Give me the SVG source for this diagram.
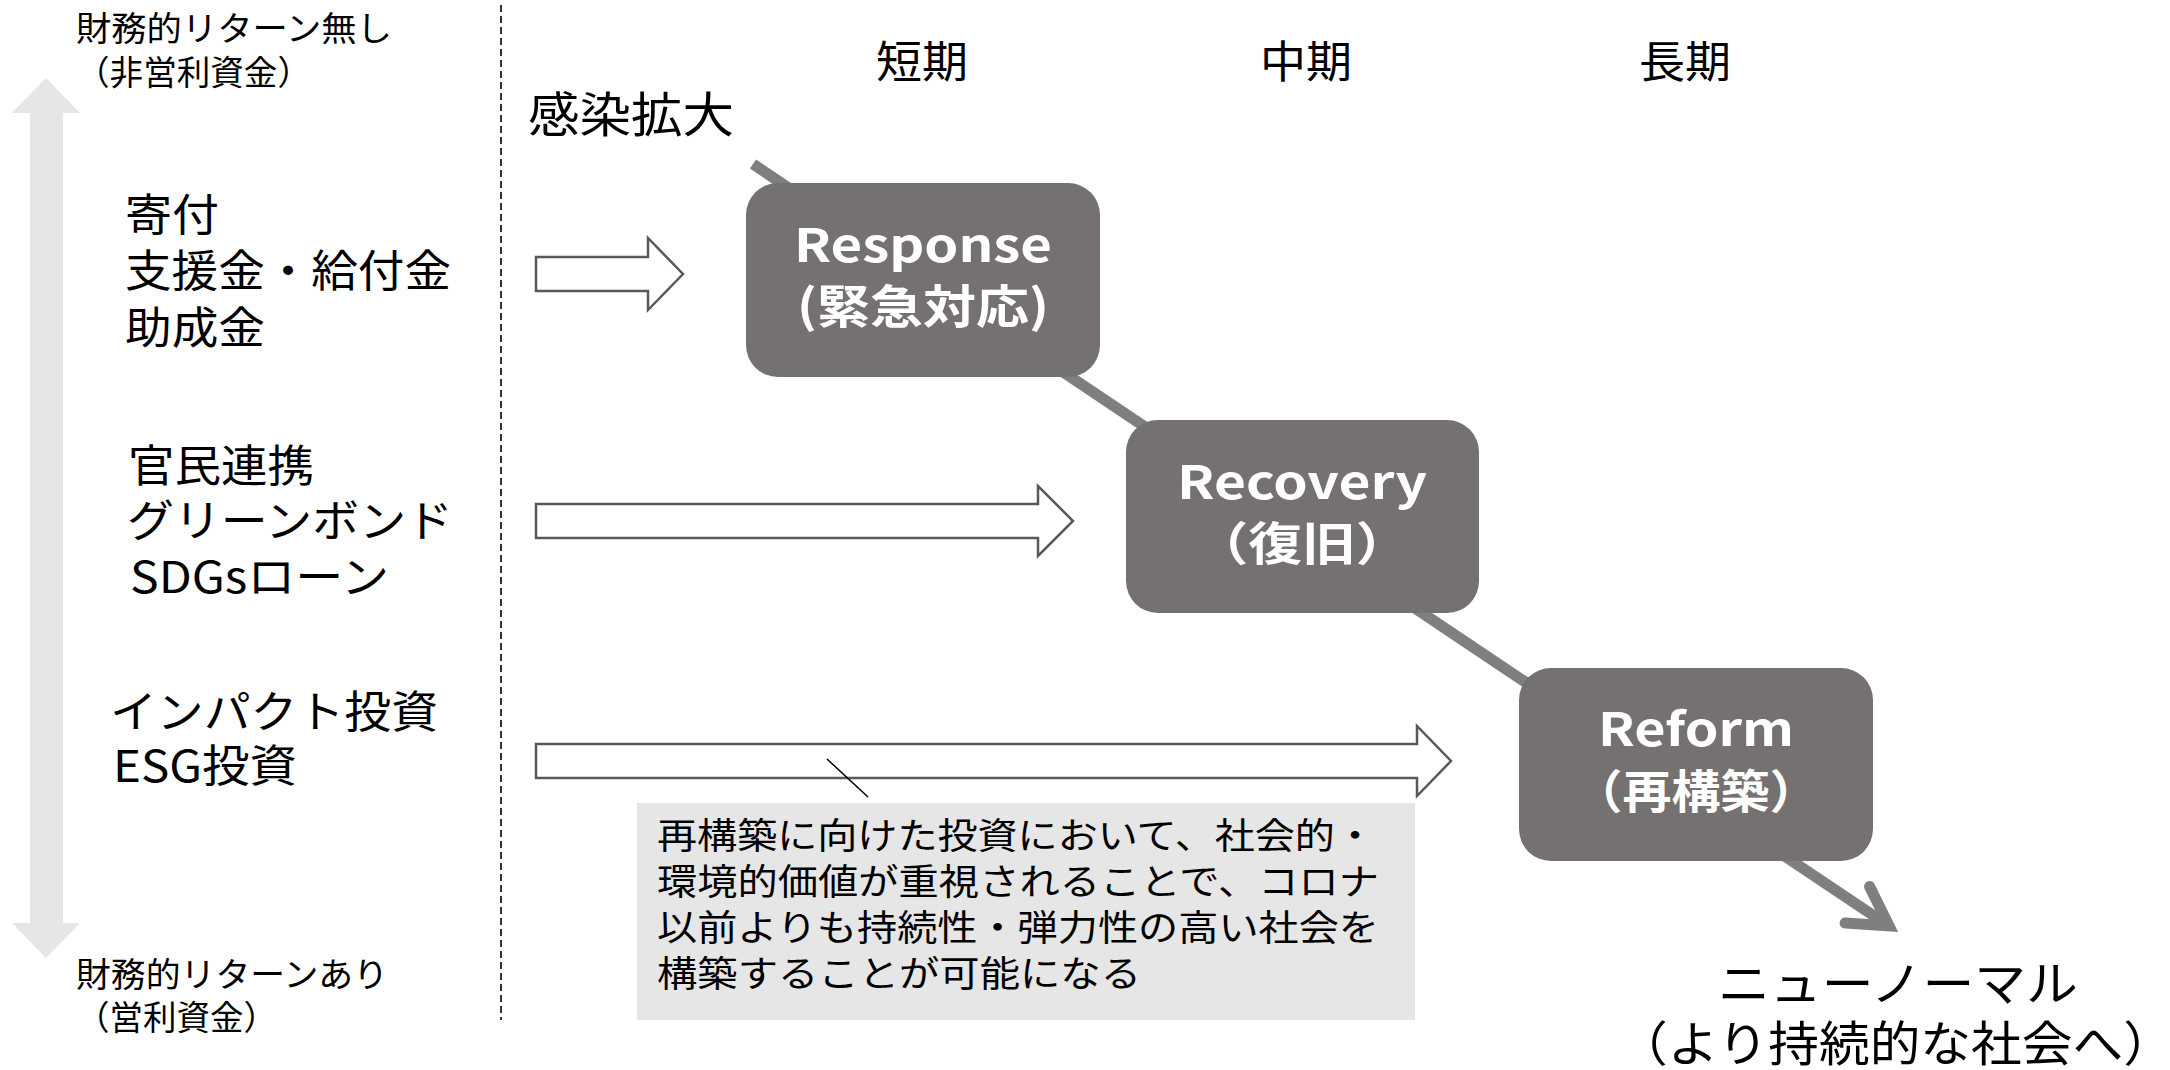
<svg xmlns="http://www.w3.org/2000/svg" width="2170" height="1070" viewBox="0 0 2170 1070">
<style>
  text { font-family: "Noto Sans CJK JP", "Noto Sans", sans-serif; fill: #000; }
  .lbl { font-size: 34px; }
  .big { font-size: 44px; }
  .note { font-size: 36px; }
  .box { fill: #767171; }
  .bt { font-size: 46px; font-weight: bold; fill: #fff; text-anchor: middle; }
  .blk { fill: #fff; stroke: #595959; stroke-width: 2.5; }
  .flow { stroke: #7f7f7f; stroke-width: 11; fill: none; }
</style>
<rect width="2170" height="1070" fill="#fff"/>

<g id="axis">
  <polygon points="46,78 80,113 63,113 63,923 80,923 46,958 12,923 30,923 30,113 12,113" fill="#e6e6e6"/>
  <line x1="501" y1="5" x2="501" y2="1020" stroke="#333" stroke-width="2" stroke-dasharray="7,4"/>
</g>

<g id="axis-labels">
  <text class="lbl" x="76" y="41" textLength="316" lengthAdjust="spacingAndGlyphs">財務的リターン無し</text>
  <text class="lbl" x="76" y="85" textLength="235" lengthAdjust="spacingAndGlyphs">（非営利資金）</text>
  <text class="lbl" x="76" y="987" textLength="312" lengthAdjust="spacingAndGlyphs">財務的リターンあり</text>
  <text class="lbl" x="76" y="1030" textLength="201" lengthAdjust="spacingAndGlyphs">（営利資金）</text>
</g>

<g id="fund-donation">
  <text class="big" x="125" y="231" textLength="94" lengthAdjust="spacingAndGlyphs">寄付</text>
  <text class="big" x="125" y="287" textLength="326" lengthAdjust="spacingAndGlyphs">支援金・給付金</text>
  <text class="big" x="125" y="344" textLength="140" lengthAdjust="spacingAndGlyphs">助成金</text>
</g>
<g id="fund-ppp">
  <text class="big" x="128" y="482" textLength="186" lengthAdjust="spacingAndGlyphs">官民連携</text>
  <text class="big" x="127" y="537" textLength="326" lengthAdjust="spacingAndGlyphs">グリーンボンド</text>
  <text class="big" x="130" y="593" textLength="259" lengthAdjust="spacingAndGlyphs">SDGsローン</text>
</g>
<g id="fund-impact">
  <text class="big" x="110" y="728" textLength="328" lengthAdjust="spacingAndGlyphs">インパクト投資</text>
  <text class="big" x="113" y="782" textLength="184" lengthAdjust="spacingAndGlyphs">ESG投資</text>
</g>

<g id="terms">
  <text class="big" x="922" y="78" text-anchor="middle" textLength="92" lengthAdjust="spacingAndGlyphs">短期</text>
  <text class="big" x="1306" y="78" text-anchor="middle" textLength="92" lengthAdjust="spacingAndGlyphs">中期</text>
  <text class="big" x="1685" y="78" text-anchor="middle" textLength="92" lengthAdjust="spacingAndGlyphs">長期</text>
</g>

<g id="start-label">
  <text x="528" y="132" font-size="48" textLength="206" lengthAdjust="spacingAndGlyphs">感染拡大</text>
</g>

<g id="connectors">
  <line class="flow" x1="753" y1="164" x2="1889" y2="926"/>
  <path class="flow" d="M1869.6,886.5 L1889,926 L1845.1,923.1" stroke-width="12" stroke-linecap="round" stroke-linejoin="miter" stroke-miterlimit="10"/>
  <polygon class="blk" points="536,257 648,257 648,238 683,274 648,310 648,291 536,291"/>
  <polygon class="blk" points="536,504 1038,504 1038,486 1073,521 1038,556 1038,538 536,538"/>
  <polygon class="blk" points="536,744 1417,744 1417,726 1451,761 1417,796 1417,778 536,778"/>
  <line x1="827" y1="759" x2="868" y2="797" stroke="#000" stroke-width="1.5"/>
</g>

<g id="response">
  <rect class="box" x="746" y="183" width="354" height="194" rx="32"/>
  <text class="bt" x="923" y="262" textLength="258" lengthAdjust="spacingAndGlyphs">Response</text>
  <text class="bt" x="923" y="323" textLength="252" lengthAdjust="spacingAndGlyphs">(緊急対応)</text>
</g>
<g id="recovery">
  <rect class="box" x="1126" y="420" width="353" height="193" rx="32"/>
  <text class="bt" x="1302" y="499" textLength="250" lengthAdjust="spacingAndGlyphs">Recovery</text>
  <text class="bt" x="1302" y="560" textLength="215" lengthAdjust="spacingAndGlyphs">（復旧）</text>
</g>
<g id="reform">
  <rect class="box" x="1519" y="668" width="354" height="193" rx="32"/>
  <text class="bt" x="1696" y="746" textLength="196" lengthAdjust="spacingAndGlyphs">Reform</text>
  <text class="bt" x="1696" y="808" textLength="245" lengthAdjust="spacingAndGlyphs">（再構築）</text>
</g>

<g id="callout">
  <rect x="637" y="803" width="778" height="217" fill="#e7e6e6"/>
  <text class="note" x="657" y="849" textLength="718" lengthAdjust="spacingAndGlyphs">再構築に向けた投資において、社会的・</text>
  <text class="note" x="657" y="895" textLength="722" lengthAdjust="spacingAndGlyphs">環境的価値が重視されることで、コロナ</text>
  <text class="note" x="657" y="941" textLength="722" lengthAdjust="spacingAndGlyphs">以前よりも持続性・弾力性の高い社会を</text>
  <text class="note" x="657" y="987" textLength="484" lengthAdjust="spacingAndGlyphs">構築することが可能になる</text>
</g>

<g id="new-normal">
  <text x="1898" y="1001" font-size="48" text-anchor="middle" textLength="360" lengthAdjust="spacingAndGlyphs">ニューノーマル</text>
  <text x="1617" y="1061" font-size="48" textLength="557" lengthAdjust="spacingAndGlyphs">（より持続的な社会へ）</text>
</g>
</svg>
